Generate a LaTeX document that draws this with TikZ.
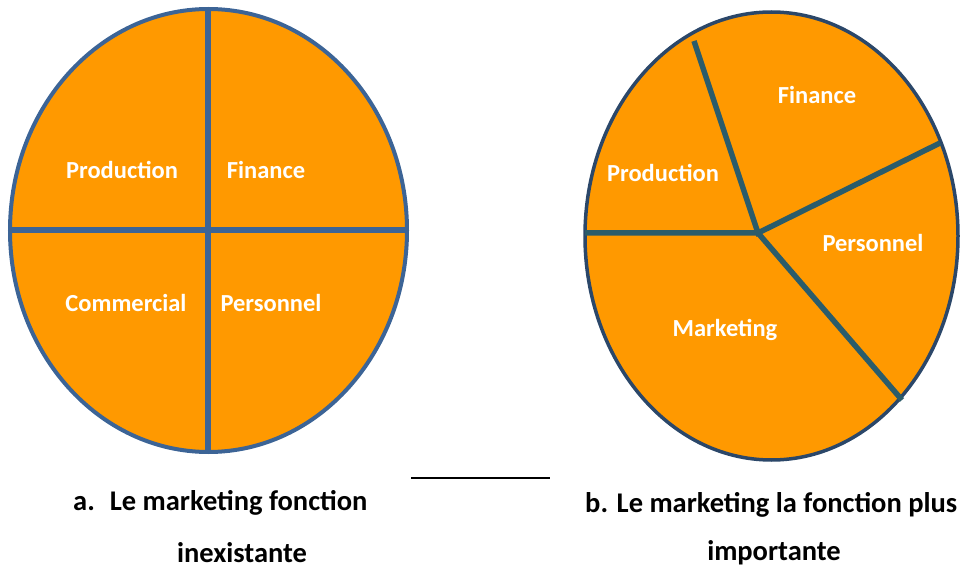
\documentclass[tikz,border=0pt]{standalone}
\usepackage{fontspec}
\setmainfont{Carlito}
\definecolor{pieorange}{HTML}{FF9900}
\definecolor{leftblue}{HTML}{3C6496}
\definecolor{rightnavy}{HTML}{2B4769}
\definecolor{spoketeal}{HTML}{2B5C6A}
\tikzset{
  partlabel/.style={text=white,font=\bfseries\fontsize{24.5}{28}\selectfont,inner sep=0pt},
  caption/.style={text=black,font=\bfseries\fontsize{28.5}{34}\selectfont,inner sep=0pt}
}
\begin{document}
\begin{tikzpicture}[x=1pt,y=-1pt]
\useasboundingbox (0,0) rectangle (970,572);
% a. four equal parts
\filldraw[fill=pieorange,draw=leftblue,line width=4pt] (208.5,230.5) ellipse (198.5 and 221.5);
\coordinate (atop) at (208,9);
\coordinate (abot) at (208,452);
\coordinate (aleft) at (10,230);
\coordinate (aright) at (407,230);
\draw[leftblue,line width=6.5pt] (atop) -- (abot);
\draw[leftblue,line width=6.5pt] (aleft) -- (aright);
\node[partlabel] (aprod) at (122,170) {Production};
\node[partlabel] (afin) at (266,170) {Finance};
\node[partlabel] (acom) at (126,303) {Commercial};
\node[partlabel] (apers) at (271,303) {Personnel};
% b. marketing in the middle
\filldraw[fill=pieorange,draw=rightnavy,line width=3.5pt] (771.5,236) ellipse (186.5 and 224);
\coordinate (bc) at (758,233);
\coordinate (btop) at (694,41);
\coordinate (bright) at (940,143);
\coordinate (bbot) at (902,400);
\coordinate (bleft) at (585,233);
\draw[spoketeal,line width=5.5pt] (btop) -- (bc) -- (bright);
\draw[spoketeal,line width=5.5pt] (bleft) -- (bc) -- (bbot);
\node[partlabel] (bfin) at (817,95) {Finance};
\node[partlabel] (bprod) at (663,173) {Production};
\node[partlabel] (bpers) at (873,243) {Personnel};
\node[partlabel] (bmark) at (725,330) {Marketing};
% separator and captions
\coordinate (sepl) at (411,478);
\coordinate (sepr) at (550,478);
\draw[black,line width=2pt] (sepl) -- (sepr);
\node[caption,anchor=west] (capa) at (73,503) {a.\hspace{15pt}Le marketing fonction};
\node[caption] (capa2) at (242,553) {inexistante};
\node[caption,anchor=west] (capb) at (585,505) {b. Le marketing la fonction plus};
\node[caption] (capb2) at (774,553) {importante};
\end{tikzpicture}
\end{document}
